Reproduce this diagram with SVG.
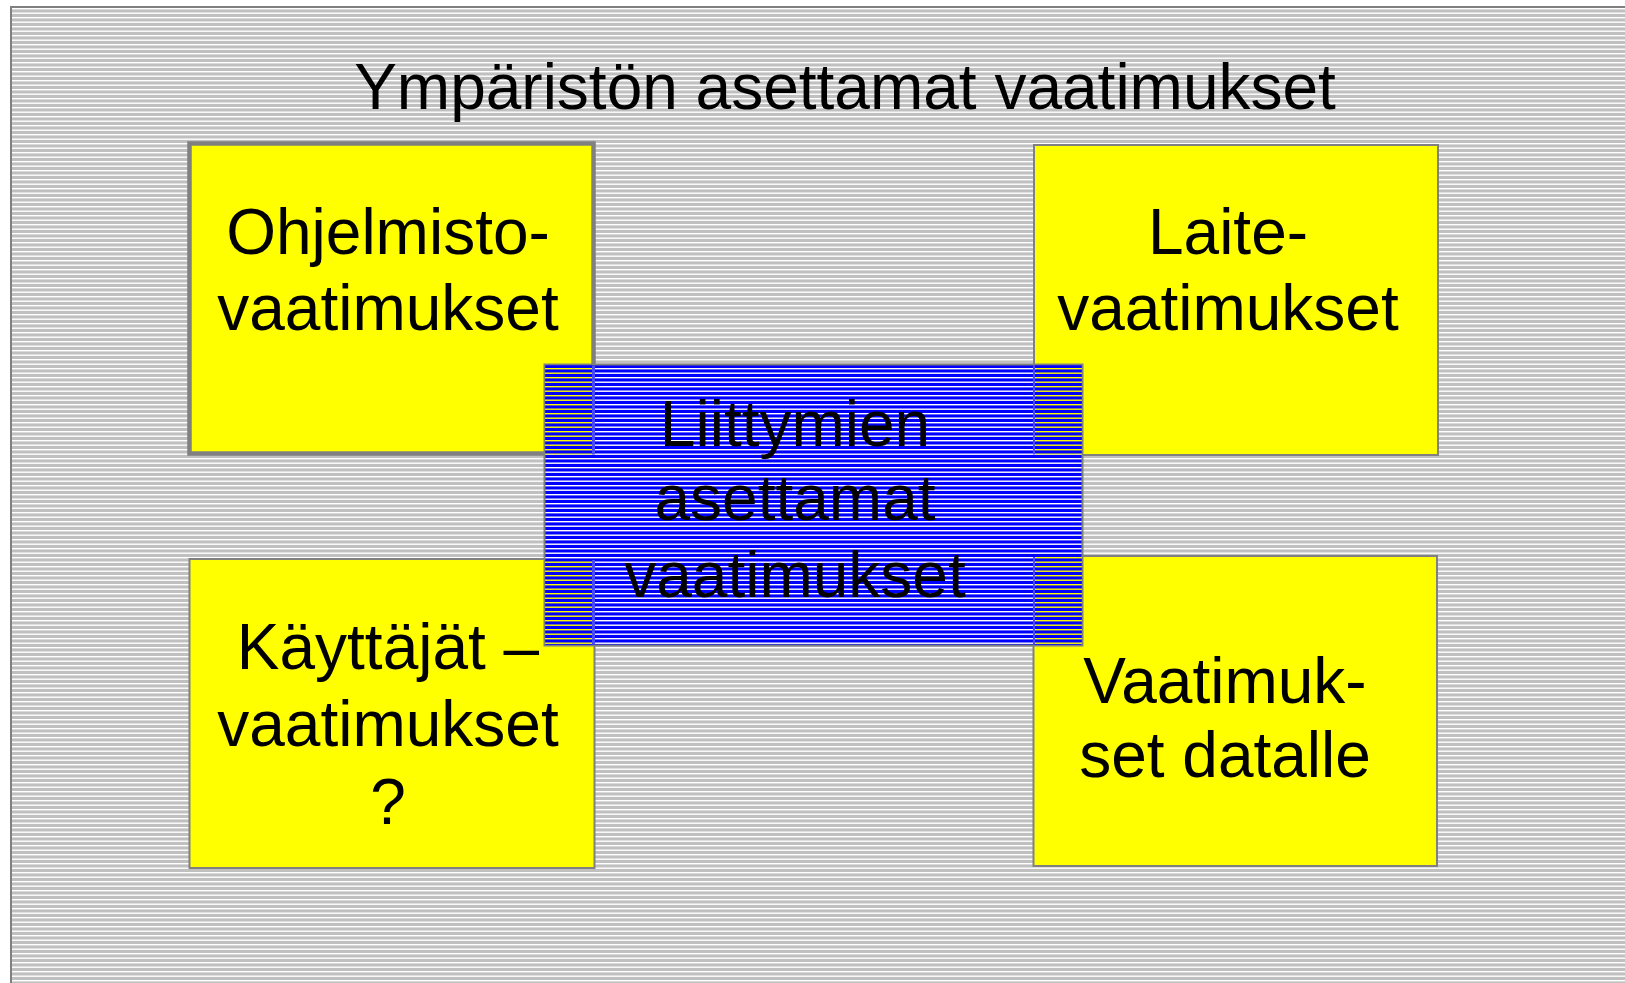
<svg xmlns="http://www.w3.org/2000/svg" width="1625" height="983" viewBox="0 0 1625 983">
<defs>
<pattern id="bgp" patternUnits="userSpaceOnUse" x="0" y="8" width="10" height="9">
<rect width="10" height="9" fill="#c0c0c0"/>
<rect y="0" width="10" height="1.4" fill="#ffffff"/>
<rect y="4.5" width="10" height="1.4" fill="#ffffff"/>
</pattern>
<pattern id="bluep" patternUnits="userSpaceOnUse" x="0" y="368" width="10" height="9">
<rect width="10" height="9" fill="#0000ff"/>
<rect y="0" width="10" height="1.4" fill="#ffffff"/>
<rect y="4.5" width="10" height="1.4" fill="#ffffff"/>
</pattern>
<pattern id="bluey" patternUnits="userSpaceOnUse" x="0" y="368" width="10" height="9">
<rect width="10" height="9" fill="#0000ff"/>
<rect y="0" width="10" height="1.4" fill="#ffff00"/>
<rect y="4.5" width="10" height="1.4" fill="#ffff00"/>
</pattern>
</defs>
<style>
.t{font-family:"Liberation Sans",Arial,sans-serif;font-size:64px;fill:#000;text-anchor:middle}
.box{fill:#ffff00;stroke:#808080;stroke-width:2}
.thick{stroke-width:4.5}
</style>
<g id="background">
<rect x="0" y="0" width="1625" height="983" fill="#ffffff"/>
<rect x="11" y="7" width="1620" height="990" fill="url(#bgp)" stroke="#808080" stroke-width="2"/>
<text class="t" x="845" y="109">Ympäristön asettamat vaatimukset</text>
</g>
<g id="connectors"/>
<g id="ohjelmisto">
<rect class="box thick" x="189.5" y="143.5" width="404" height="310"/>
<text class="t" x="388" y="254">Ohjelmisto-</text>
<text class="t" x="388" y="330">vaatimukset</text>
</g>
<g id="laite">
<rect class="box" x="1034" y="145" width="404" height="310"/>
<text class="t" x="1228" y="254">Laite-</text>
<text class="t" x="1228" y="330">vaatimukset</text>
</g>
<g id="kayttajat">
<rect class="box" x="189.5" y="559" width="405" height="309"/>
<text class="t" x="388" y="669">Käyttäjät –</text>
<text class="t" x="388" y="746">vaatimukset</text>
<text class="t" x="388" y="824">?</text>
</g>
<g id="data">
<rect class="box" x="1033.5" y="556" width="403.5" height="310"/>
<text class="t" x="1225" y="703">Vaatimuk-</text>
<text class="t" x="1225" y="777">set datalle</text>
</g>
<g id="liittymat">
<rect x="544.5" y="364.5" width="538" height="281" fill="url(#bluep)" stroke="#808080" stroke-width="2"/>
<rect x="545.5" y="365.5" width="48" height="89" fill="url(#bluey)"/>
<rect x="1035" y="365.5" width="46.5" height="89" fill="url(#bluey)"/>
<rect x="545.5" y="560" width="48" height="84.5" fill="url(#bluey)"/>
<rect x="1035" y="557" width="46.5" height="87.5" fill="url(#bluey)"/>
<rect x="592" y="365.5" width="3" height="89" fill="#4a4aff"/>
<rect x="592" y="560" width="3" height="84.5" fill="#4a4aff"/>
<rect x="1033" y="365.5" width="2" height="89" fill="#4a4aff"/>
<rect x="1033" y="557" width="2" height="87.5" fill="#4a4aff"/>
<text class="t" x="795" y="446">Liittymien</text>
<text class="t" x="795" y="520">asettamat</text>
<text class="t" x="795" y="597">vaatimukset</text>
</g>
</svg>
